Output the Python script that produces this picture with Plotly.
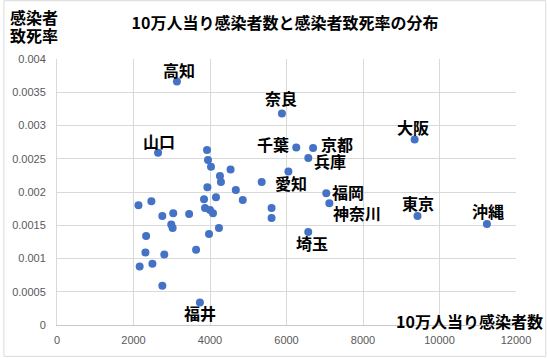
import plotly.graph_objects as go

# labeled prefectures
names = ["高知", "奈良", "大阪", "山口", "千葉", "京都", "兵庫", "愛知", "福岡", "神奈川", "東京", "沖縄", "埼玉", "福井"]
lab_x = [3135, 5880, 9350, 2642, 6255, 6695, 6570, 6050, 7040, 7120, 9425, 11240, 6568, 3736]
lab_y = [0.00366, 0.00318, 0.00279, 0.00259, 0.00267, 0.00266, 0.00251, 0.00231, 0.00198, 0.00183, 0.00164, 0.00152, 0.00140, 0.00034]

# unlabeled prefectures
other_x = [2130, 2468, 2754, 3039, 2987, 3023, 3455, 2330, 2312, 2161, 2494, 2805, 2754, 3636,
           3844, 3932, 3870, 4000, 4078, 3974, 4156, 4234, 4260, 4286, 4538, 4675, 4857, 5351,
           5610, 5610, 3922, 3948, 4026]
other_y = [0.00180, 0.00186, 0.00164, 0.00168, 0.00151, 0.00146, 0.00167, 0.00134, 0.00109, 0.00088,
           0.00092, 0.00106, 0.00059, 0.00113, 0.00189, 0.00207, 0.00176, 0.00173, 0.00168, 0.00137,
           0.00192, 0.00146, 0.00224, 0.00215, 0.00234, 0.00203, 0.00188, 0.00215, 0.00176, 0.00161,
           0.00263, 0.00248, 0.00238]

x_ticks = [0, 2000, 4000, 6000, 8000, 10000, 12000]
y_ticks = [0, 0.0005, 0.001, 0.0015, 0.002, 0.0025, 0.003, 0.0035, 0.004]

# label placement (pixel offsets of label centre from its point; +y = down)
label_dx = [2, -1, -2, 1, -23, 24, 22, 3, 22, 28, 0, 1, 4, 0]
label_dy = [-12, -16, -12, -12, -3, -4, 3, 12, -1, 10, -13, -13, 11, 11]

blue = "#4472C4"
jp = "Noto Sans CJK JP"

fig = go.Figure()
fig.add_trace(go.Scatter(x=other_x, y=other_y, mode="markers",
                         marker=dict(color=blue, size=8), hoverinfo="skip"))
fig.add_trace(go.Scatter(x=lab_x, y=lab_y, mode="markers",
                         marker=dict(color=blue, size=8)))

W, H = 547, 358
ml, mr, mt, mb = 54, 30.5, 59, 32
pw, ph = W - ml - mr, H - mt - mb

def px(xp):
    return (xp - ml) / pw

def py(yp):
    return (H - mb - yp) / ph

annotations = []
for n, x, y, dx, dy in zip(names, lab_x, lab_y, label_dx, label_dy):
    annotations.append(dict(text=f"<b>{n}</b>", x=x, y=y, xref="x", yref="y",
                            xshift=dx, yshift=-dy, xanchor="center", yanchor="middle",
                            showarrow=False, font=dict(family=jp, size=16, color="#000000")))

annotations += [
    dict(text="<b>感染者</b>", xref="paper", yref="paper",
         x=px(5), y=py(16.5), xanchor="left", yanchor="middle", showarrow=False,
         font=dict(family=jp, size=16, color="#000000")),
    dict(text="<b>致死率</b>", xref="paper", yref="paper",
         x=px(5), y=py(35), xanchor="left", yanchor="middle", showarrow=False,
         font=dict(family=jp, size=16, color="#000000")),
    dict(text="<b>10万人当り感染者数</b>", xref="paper", yref="paper",
         x=px(546), y=py(321.5), xanchor="right", yanchor="middle", showarrow=False,
         font=dict(family=jp, size=16, color="#000000")),
]

fig.update_layout(
    width=W, height=H,
    margin=dict(l=ml, r=mr, t=mt, b=mb),
    paper_bgcolor="white", plot_bgcolor="white",
    showlegend=False,
    title=dict(text="<b>10万人当り感染者数と感染者致死率の分布</b>",
               x=285 / W, xanchor="center", y=1 - 23 / H, yanchor="middle",
               font=dict(family=jp, size=16, color="#000000")),
    xaxis=dict(range=[0, 12000], tickvals=x_ticks, ticktext=[str(v) for v in x_ticks],
               showgrid=True, gridcolor="#d9d9d9", gridwidth=1, zeroline=False,
               showline=True, linecolor="#c8c8c8", ticks="", ticklabelstandoff=5,
               tickfont=dict(family="Liberation Sans", size=11, color="#595959")),
    yaxis=dict(range=[0, 0.004], tickvals=y_ticks, ticktext=[f"{v:g}" for v in y_ticks],
               showgrid=True, gridcolor="#d9d9d9", gridwidth=1, zeroline=False,
               showline=True, linecolor="#d9d9d9", ticks="", ticklabelstandoff=8,
               tickfont=dict(family="Liberation Sans", size=11, color="#595959")),
    annotations=annotations,
    shapes=[dict(type="rect", xref="paper", yref="paper",
                 x0=px(0.5), x1=px(W - 0.5), y0=py(H - 0.5), y1=py(0.5),
                 line=dict(color="#d9d9d9", width=1), layer="below")],
)

fig.write_html("out.html", config={"displayModeBar": False},
               post_script="document.body.style.margin='0';document.body.style.overflow='hidden';")
